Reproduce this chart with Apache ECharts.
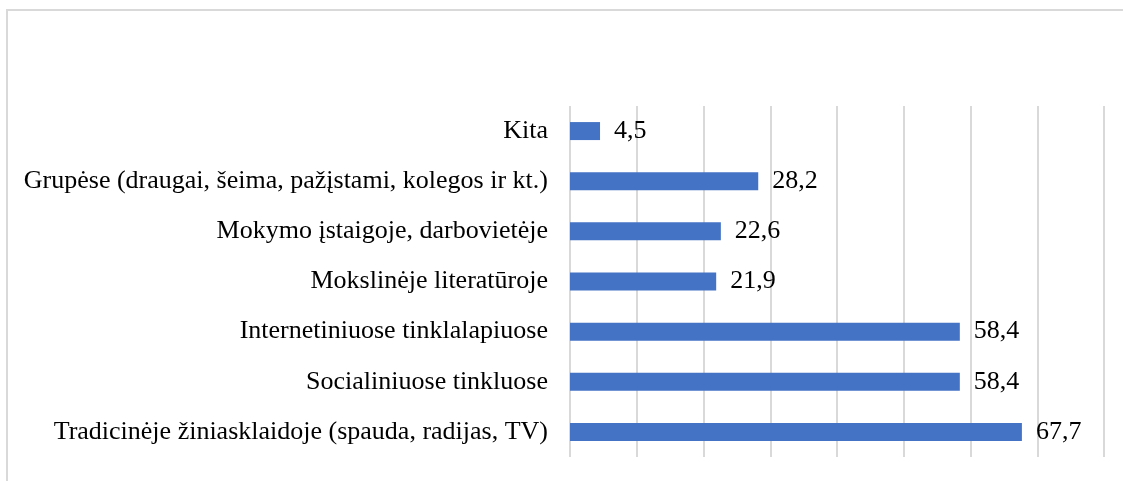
<!DOCTYPE html>
<html lang="lt">
<head>
    <meta charset="UTF-8">
    <title>Informacijos šaltiniai</title>
    <script src="https://cdn.jsdelivr.net/npm/echarts@6/dist/echarts.min.js"></script>
    <style>
        html, body { margin: 0; padding: 0; background: #fff; }
        #frame {
            position: absolute; left: 6px; top: 9px; width: 1117px; height: 472px;
            border-left: 2px solid #d9d9d9; border-top: 2px solid #d9d9d9;
            box-sizing: border-box;
        }
        #chart { position: absolute; left: 0; top: 0; width: 1123px; height: 481px; }
    </style>
</head>
<body>
    <div id="frame"></div>
    <div id="chart"></div>
    <script>
        // kategorijos (iš apačios į viršų)
        var categories = [
            'Tradicinėje žiniasklaidoje (spauda, radijas, TV)',
            'Socialiniuose tinkluose',
            'Internetiniuose tinklalapiuose',
            'Mokslinėje literatūroje',
            'Mokymo įstaigoje, darbovietėje',
            'Grupėse (draugai, šeima, pažįstami, kolegos ir kt.)',
            'Kita'
        ];
        var values = [67.7, 58.4, 58.4, 21.9, 22.6, 28.2, 4.5];

        var myChart = echarts.init(document.getElementById('chart'));

        var option = {
            animation: false,
            grid: {
                left: 570,
                right: 19,
                top: 106,
                bottom: 24
            },
            xAxis: {
                type: 'value',
                min: 0,
                max: 80,
                interval: 10,
                axisLabel: { show: false },
                axisLine: { show: false },
                axisTick: { show: false },
                splitLine: {
                    show: true,
                    lineStyle: { color: '#d9d9d9', width: 2 }
                }
            },
            yAxis: {
                type: 'category',
                data: categories,
                axisLine: { show: false },
                axisTick: { show: false },
                axisLabel: {
                    margin: 22,
                    color: '#000',
                    fontFamily: 'Liberation Serif',
                    fontSize: 26,
                    padding: [3, 0, 0, 0]
                }
            },
            series: [
                {
                    type: 'bar',
                    data: values,
                    barWidth: 18,
                    itemStyle: { color: '#4472c4' },
                    label: {
                        show: true,
                        position: 'right',
                        distance: 14,
                        color: '#000',
                        fontFamily: 'Liberation Serif',
                        fontSize: 26,
                        padding: [3, 0, 0, 0],
                        formatter: function (p) {
                            return String(p.value).replace('.', ',');
                        }
                    }
                }
            ]
        };

        myChart.setOption(option);
    </script>
</body>
</html>
